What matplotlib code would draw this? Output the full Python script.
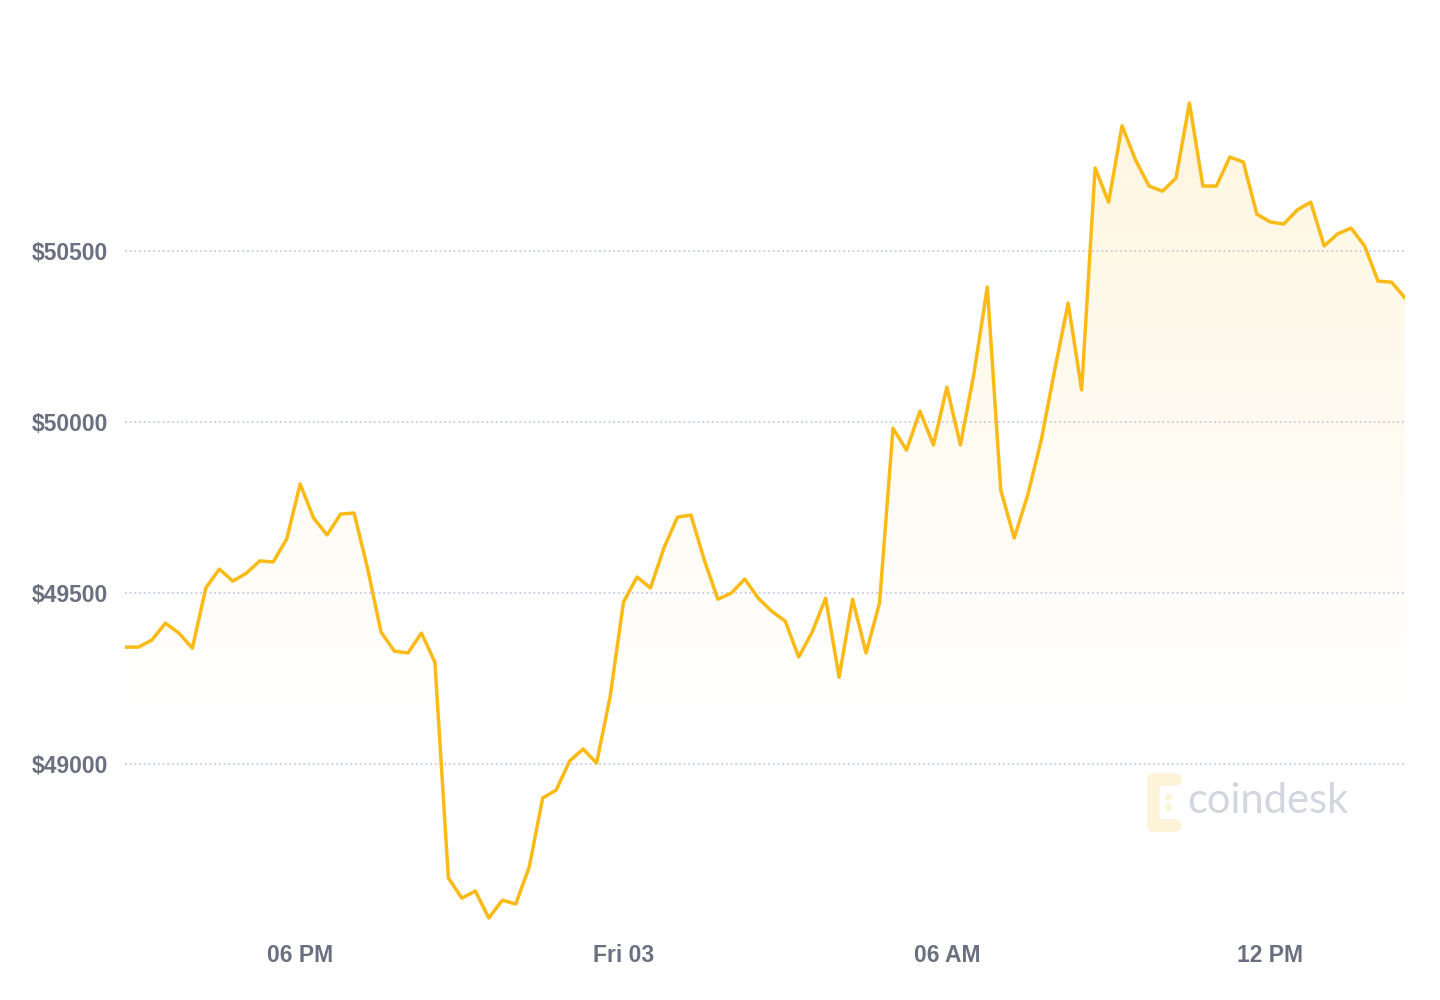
import numpy as np
import pandas as pd
import matplotlib
matplotlib.use("Agg")
import matplotlib.pyplot as plt
import matplotlib.dates as mdates
from matplotlib.patches import Polygon

# BTC price, 15 minute steps starting Thu 02 14:45
start_time = "2021-09-02 14:45"
prices = [
    49342, 49342, 49363, 49412, 49383, 49339, 49515, 49570, 49535, 49558,
    49594, 49591, 49658, 49819, 49719, 49670, 49731, 49734, 49573, 49386,
    49330, 49325, 49383, 49298, 48667, 48608, 48629, 48550, 48602, 48591,
    48699, 48901, 48924, 49009, 49044, 49003, 49196, 49474, 49547, 49515,
    49632, 49722, 49728, 49596, 49482, 49500, 49541, 49485, 49447, 49418,
    49313, 49386, 49485, 49254, 49482, 49325, 49471, 49982, 49918, 50032,
    49933, 50102, 49933, 50140, 50395, 49801, 49661, 49787, 49947, 50152,
    50348, 50094, 50743, 50643, 50866, 50766, 50690, 50675, 50713, 50933,
    50690, 50690, 50775, 50760, 50608, 50585, 50579, 50620, 50643, 50515,
    50550, 50567, 50515, 50412, 50409, 50363,
]
y_ticks = [49000, 49500, 50000, 50500]
x_tick_times = ["2021-09-02 18:00", "2021-09-03 00:00", "2021-09-03 06:00", "2021-09-03 12:00"]
x_tick_labels = ["06 PM", "Fri 03", "06 AM", "12 PM"]

LINE = "#FBBA16"
LABEL = "#6B7080"
FONT = ["Liberation Sans", "DejaVu Sans"]

times = pd.date_range(start_time, periods=len(prices), freq="15min")
x = mdates.date2num(times.to_pydatetime())
y = np.array(prices, dtype=float)

fig = plt.figure(figsize=(14.4, 10), dpi=100)
ax = fig.add_axes([125 / 1440, 0.07, 1280 / 1440, 0.85])
ymin, ymax = 48515, 51000
ax.set_xlim(x[0], x[-1])
ax.set_ylim(ymin, ymax)

# gradient fill under the line
verts = [(x[0], ymin)] + list(zip(x, y)) + [(x[-1], ymin)]
poly = Polygon(verts, closed=True, facecolor="none", edgecolor="none")
ax.add_patch(poly)
n = 256
alpha = np.linspace(0.0, 1.0, n)
alpha = np.clip((alpha - 0.2) / 0.8, 0, 1) ** 1.2 * 0.17
grad = np.zeros((n, 1, 4))
grad[:, 0, 0] = 0.98
grad[:, 0, 1] = 0.78
grad[:, 0, 2] = 0.22
grad[:, 0, 3] = alpha
im = ax.imshow(grad, extent=[x[0], x[-1], ymin, ymax], origin="lower",
               aspect="auto", zorder=1, interpolation="bilinear")
im.set_clip_path(poly)

for t in y_ticks:
    ax.axhline(t, color="#C5CCE6", lw=1.3, ls=(0, (1, 1.6)), zorder=0.5)

ax.plot(x, y, color=LINE, lw=2.5, zorder=3)

# watermark
fig.text(1187 / 1440, 1 - 801 / 1000, "coindesk", fontsize=30, color="#D3D6DE",
         family=["Lato", "DejaVu Sans"], va="center", ha="left")
wm = fig.add_axes([1143 / 1440, 1 - 832 / 1000, 40 / 1440, 60 / 1000])
wm.axis("off")
wm.set_xlim(0, 1)
wm.set_ylim(0, 1)
logo = "#FDF3D8"
wm.plot([0.25, 0.25], [0.12, 0.88], color=logo, lw=9, solid_capstyle="round")
wm.plot([0.25, 0.8], [0.88, 0.88], color=logo, lw=9, solid_capstyle="round")
wm.plot([0.25, 0.8], [0.12, 0.12], color=logo, lw=9, solid_capstyle="round")
wm.plot([0.62, 0.62], [0.42, 0.58], "o", color=logo, ms=4)

ax.set_yticks(y_ticks)
ax.set_yticklabels([f"${t}" for t in y_ticks])
ax.set_xticks(mdates.date2num(pd.to_datetime(x_tick_times).to_pydatetime()))
ax.set_xticklabels(x_tick_labels)
ax.tick_params(length=0, labelcolor=LABEL, labelsize=16.5)
ax.tick_params(axis="y", pad=12)
ax.tick_params(axis="x", pad=10)
for lab in ax.get_xticklabels() + ax.get_yticklabels():
    lab.set_family(FONT)
    lab.set_fontweight("bold")
for s in ax.spines.values():
    s.set_visible(False)

fig.savefig("out.png", dpi=100, facecolor="white")
